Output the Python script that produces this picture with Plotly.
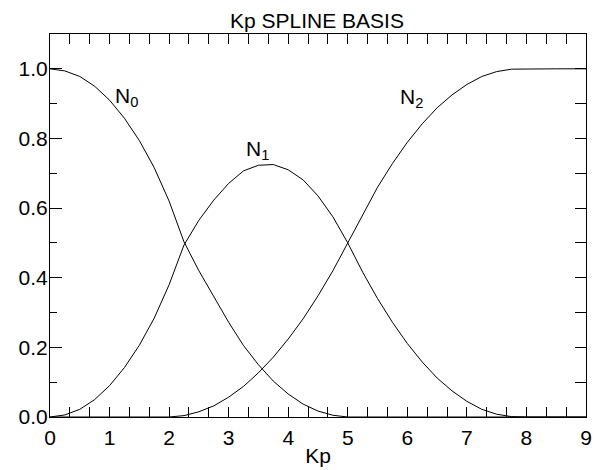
import plotly.graph_objects as go

# Kp values and spline basis values
kp = [0, 0.25, 0.5, 0.75, 1.0, 1.25, 1.5, 1.75, 2.0, 2.25, 2.5, 2.75, 3.0, 3.25,
      3.5, 3.75, 4.0, 4.25, 4.5, 4.75, 5.0, 5.25, 5.5, 5.75, 6.0, 6.25, 6.5,
      6.75, 7.0, 7.25, 7.5, 7.75, 8.0, 8.5, 9.0]

n0 = [1.0, 0.994, 0.978, 0.95, 0.91, 0.858, 0.794, 0.716, 0.62, 0.503, 0.42,
      0.345, 0.272, 0.205, 0.15, 0.103, 0.066, 0.037, 0.017, 0.005, 0.0, 0.0,
      0.0, 0.0, 0.0, 0.0, 0.0, 0.0, 0.0, 0.0, 0.0, 0.0, 0.0, 0.0, 0.0]

n1 = [0.0, 0.006, 0.022, 0.05, 0.09, 0.142, 0.206, 0.284, 0.38, 0.494, 0.565,
      0.623, 0.671, 0.707, 0.723, 0.725, 0.71, 0.681, 0.635, 0.575, 0.5, 0.416,
      0.34, 0.272, 0.211, 0.158, 0.112, 0.075, 0.045, 0.022, 0.008, 0.001, 0.0,
      0.0, 0.0]

n2 = [0.0, 0.0, 0.0, 0.0, 0.0, 0.0, 0.0, 0.0, 0.0, 0.004, 0.015, 0.032, 0.057,
      0.088, 0.127, 0.172, 0.224, 0.282, 0.348, 0.42, 0.5, 0.584, 0.66, 0.728,
      0.789, 0.842, 0.888, 0.925, 0.955, 0.978, 0.992, 0.999, 1.0, 1.0, 1.0]

labels = ["N<sub>0</sub>", "N<sub>1</sub>", "N<sub>2</sub>"]
label_x = [1.06, 3.25, 5.85]
label_y = [0.92, 0.768, 0.916]

FONT = "Liberation Sans, Arial, sans-serif"

fig = go.Figure()
# extra axes only give the IDL-style top/right tick marks
for ys, xa, ya in [(n0, "x", "y"), (n1, "x2", "y"), (n2, "x", "y2")]:
    fig.add_trace(go.Scatter(x=kp, y=ys, mode="lines", xaxis=xa, yaxis=ya,
                             line=dict(color="black", width=1),
                             showlegend=False, hoverinfo="skip"))

for t, x, y in zip(labels, label_x, label_y):
    fig.add_annotation(x=x, y=y, text=t, showarrow=False, xanchor="left",
                       yanchor="middle", font=dict(size=21, color="black"))

fig.update_layout(
    width=598, height=470,
    margin=dict(l=50, r=12, t=34, b=53),
    paper_bgcolor="white", plot_bgcolor="rgba(0,0,0,0)",
    font=dict(family=FONT, size=21, color="black"),
    title=dict(text="Kp SPLINE BASIS", x=0.53, xanchor="center",
               y=1 - 21 / 470, yanchor="middle", yref="container",
               font=dict(size=21)),
    xaxis=dict(range=[0, 9], dtick=1, tick0=0, ticks="inside", ticklen=10,
               tickcolor="black", showline=True, linecolor="black",
               linewidth=1, mirror="allticks", showgrid=False,
               zeroline=False, layer="above traces",
               ticklabelstandoff=2, automargin=False,
               minor=dict(dtick=1 / 3, tick0=0, ticks="inside", ticklen=5,
                          tickcolor="black", showgrid=False),
               title=dict(text="Kp", standoff=0, font=dict(size=21))),
    xaxis2=dict(range=[0, 9], dtick=1, tick0=0, overlaying="x", side="top",
                anchor="y", ticks="inside", ticklen=10, tickcolor="black",
                showline=True, linecolor="black", linewidth=1,
                showgrid=False, zeroline=False, showticklabels=False,
                automargin=False,
                minor=dict(dtick=1 / 3, tick0=0, ticks="inside", ticklen=5,
                           tickcolor="black", showgrid=False)),
    yaxis=dict(range=[0, 1.1], dtick=0.2, tick0=0, tickformat=".1f",
               ticks="inside", ticklen=12, tickcolor="black", showline=True,
               linecolor="black", linewidth=1, showgrid=False, zeroline=False,
               ticklabelstandoff=-3, automargin=False,
               minor=dict(dtick=0.1, tick0=0, ticks="inside", ticklen=7,
                          tickcolor="black", showgrid=False)),
    yaxis2=dict(range=[0, 1.1], dtick=0.1, tick0=0, overlaying="y",
                side="right", anchor="x", ticks="inside", ticklen=11,
                tickcolor="black", showline=True, linecolor="black",
                linewidth=1, showticklabels=False, showgrid=False,
                zeroline=False, automargin=False),
)

fig.write_html("out.html", config={"displayModeBar": False},
               post_script="document.body.style.margin='0';")
